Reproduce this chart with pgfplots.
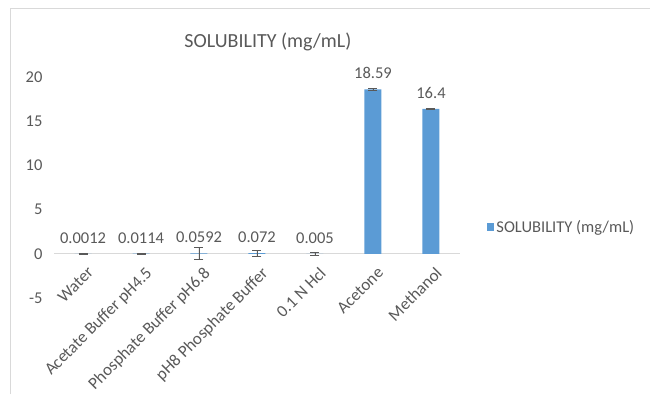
\documentclass[border=0pt]{standalone}
\usepackage{pgfplots}
\pgfplotsset{compat=1.18}
\usepackage{pgfplotstable}
\usepackage{fontspec}
\setmainfont{Carlito}
\definecolor{barblue}{HTML}{5B9BD5}
\definecolor{txtgray}{HTML}{595959}
\definecolor{linegray}{HTML}{D9D9D9}
\pgfplotstableread{
x y err lab
0 0.0012 0.02 0.0012
1 0.0114 0.02 0.0114
2 0.0592 0.7 0.0592
3 0.072 0.35 0.072
4 0.005 0.2 0.005
5 18.59 0.08 18.59
6 16.4 0.08 16.4
}\soltable
\begin{document}
\begin{tikzpicture}
\useasboundingbox (0,0) rectangle (650pt,394pt);
\draw[linegray, line width=1pt] (10pt,0) -- (10pt,385pt) -- (650pt,385pt);
\begin{axis}[
  at={(54pt,96pt)}, anchor=south west,
  scale only axis, width=406pt, height=221pt,
  xmin=-0.5, xmax=6.5, ymin=-5, ymax=20,
  ytick={-5,0,5,10,15,20},
  xtick=data,
  xticklabels={Water,Acetate Buffer pH4.5,Phosphate Buffer pH6.8,pH8 Phosphate Buffer,0.1 N Hcl,Acetone,Methanol},
  axis x line=middle, axis y line=left,
  hide obscured y ticks=false, hide obscured x ticks=false,
  x axis line style={-, draw=linegray, line width=1pt},
  y axis line style={draw=none},
  major tick length=0pt,
  font=\fontsize{16.5pt}{18pt}\selectfont,
  tick label style={text=txtgray},
  yticklabel style={font=\fontsize{16.5pt}{18pt}\selectfont, xshift=-8pt},
  xticklabel style={font=\fontsize{17pt}{19pt}\selectfont, rotate=45, anchor=north east, inner sep=1pt, yshift=-10pt, xshift=-5pt},
  /pgf/number format/assume math mode=true,
  title={SOLUBILITY (mg/mL)},
  every axis title shift=0pt,
  title style={at={(0.527,1.158)}, anchor=center, font=\fontsize{20pt}{24pt}\selectfont, text=txtgray},
  legend style={at={(1.066,0.321)}, anchor=west, draw=none, fill=none, font=\fontsize{16.5pt}{18pt}\selectfont, text=txtgray, inner sep=0pt},
  legend image code/.code={\fill[barblue] (0pt,-3.75pt) rectangle (7.5pt,3.75pt);},
  clip=false,
]
\addplot[ybar, bar width=17pt, fill=barblue, draw=none,
  error bars/.cd, y dir=both, y explicit,
  error bar style={txtgray, line width=0.7pt},
  error mark options={rotate=90, mark size=4.5pt, txtgray, line width=0.7pt},
]
  table[x=x, y=y, y error=err] {\soltable};
\addlegendentry{SOLUBILITY (mg/mL)}
\addplot[only marks, mark=none,
  nodes near coords, point meta=explicit symbolic,
  every node near coord/.append style={font=\fontsize{16.5pt}{18pt}\selectfont, text=txtgray, anchor=south, yshift=7pt},
]
  table[x=x, y=y, meta=lab] {\soltable};
\end{axis}
\end{tikzpicture}
\end{document}
